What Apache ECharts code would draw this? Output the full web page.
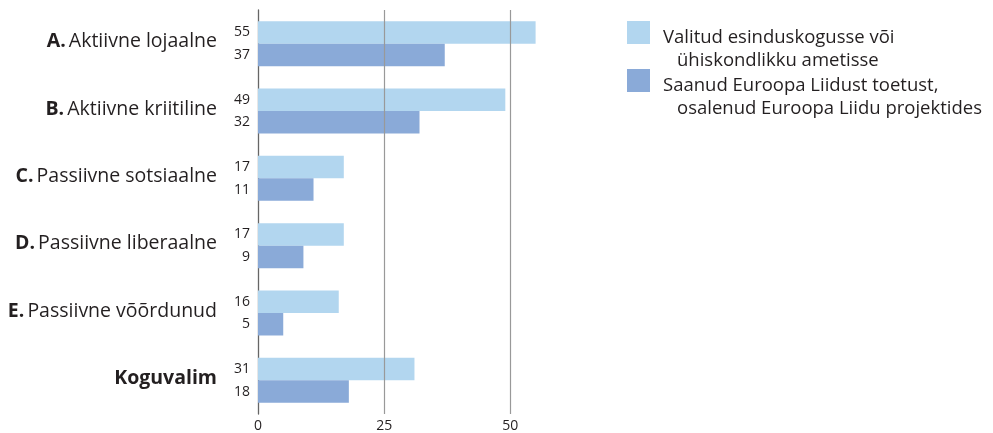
<!DOCTYPE html>
<html>
<head>
<meta charset="utf-8">
<script src="https://cdn.jsdelivr.net/npm/echarts@6/dist/echarts.min.js"></script>
<style>
  html, body { margin: 0; padding: 0; background: #fff; }
  #chart { width: 993px; height: 433px; }
</style>
</head>
<body>
<div id="chart"></div>
<script>
// Categories: letter prefix is bold, rest is regular
const letters = ['A.', 'B.', 'C.', 'D.', 'E.', ''];
const groups = ['Aktiivne lojaalne', 'Aktiivne kriitiline', 'Passiivne sotsiaalne', 'Passiivne liberaalne', 'Passiivne võõrdunud', 'Koguvalim'];

const seriesNames = [
  ['Valitud esinduskogusse või', 'ühiskondlikku ametisse'],
  ['Saanud Euroopa Liidust toetust,', 'osalenud Euroopa Liidu projektides']
];
const electedValues = [55, 49, 17, 17, 16, 31];
const euSupportValues = [37, 32, 11, 9, 5, 18];
const seriesColors = ['#b2d6ef', '#8aaad8'];

const axisTicks = [0, 25, 50];
const axisMax = 55;

const textColor = '#231f20';
const fontFamily = '"Open Sans", sans-serif';

const categories = groups.map((g, i) => letters[i] ? letters[i] + ' ' + g : g);
const fullNames = seriesNames.map(n => n.join(' '));

function categoryLabel(value, index) {
  if (!letters[index]) {
    return '{b|' + groups[index] + '}';
  }
  return '{b|' + letters[index] + '} {r|' + groups[index] + '}';
}

function legendFor(i, top) {
  return {
    data: [fullNames[i]],
    left: 627,
    top: top,
    padding: 0,
    itemWidth: 23,
    itemHeight: 23,
    icon: 'rect',
    selectedMode: false,
    formatter: () => '{a|' + seriesNames[i][0] + '}\n{b|' + seriesNames[i][1] + '}',
    textStyle: {
      padding: [33, 0, 0, 8],
      rich: {
        a: { fontSize: 18.5, fontFamily: fontFamily, color: textColor, lineHeight: 23.5 },
        b: { fontSize: 18.5, fontFamily: fontFamily, color: textColor, lineHeight: 23.5, padding: [0, 0, 0, 14] }
      }
    }
  };
}

const chart = echarts.init(document.getElementById('chart'), null, { renderer: 'canvas' });

chart.setOption({
  animation: false,
  backgroundColor: '#fff',
  textStyle: { fontFamily: fontFamily },
  legend: [legendFor(0, 21), legendFor(1, 69)],
  grid: { left: 258, top: 10, height: 408, width: 277.6 },
  xAxis: {
    type: 'value',
    min: 0,
    max: axisMax,
    interval: 25,
    axisLine: { show: false },
    axisTick: { show: false },
    splitLine: { show: false },
    axisLabel: {
      showMaxLabel: false,
      margin: 5,
      fontSize: 14,
      color: textColor,
      fontFamily: fontFamily
    }
  },
  yAxis: {
    type: 'category',
    inverse: true,
    data: categories,
    axisLine: { show: true, lineStyle: { color: '#666', width: 1.3 } },
    axisTick: { show: false },
    axisLabel: {
      margin: 41,
      padding: [0, 0, 4, 0],
      formatter: categoryLabel,
      rich: {
        b: { fontSize: 19.5, fontWeight: 'bold', color: textColor, fontFamily: fontFamily },
        r: { fontSize: 19.5, color: textColor, fontFamily: fontFamily }
      }
    }
  },
  series: [
    {
      name: fullNames[0],
      type: 'bar',
      data: electedValues,
      barWidth: 22.5,
      barGap: '0%',
      itemStyle: { color: seriesColors[0] },
      label: { show: true, position: 'left', distance: 8, fontSize: 14, color: textColor, fontFamily: fontFamily },
      markLine: {
        silent: true,
        symbol: 'none',
        label: { show: false },
        lineStyle: { color: '#999', type: 'solid', width: 1.2 },
        data: axisTicks.filter(t => t > 0).map(t => ({ xAxis: t }))
      },
      z: 1
    },
    {
      name: fullNames[1],
      type: 'bar',
      data: euSupportValues,
      barWidth: 22.5,
      itemStyle: { color: seriesColors[1] },
      label: { show: true, position: 'left', distance: 8, fontSize: 14, color: textColor, fontFamily: fontFamily },
      z: 3
    }
  ]
});
</script>
</body>
</html>
